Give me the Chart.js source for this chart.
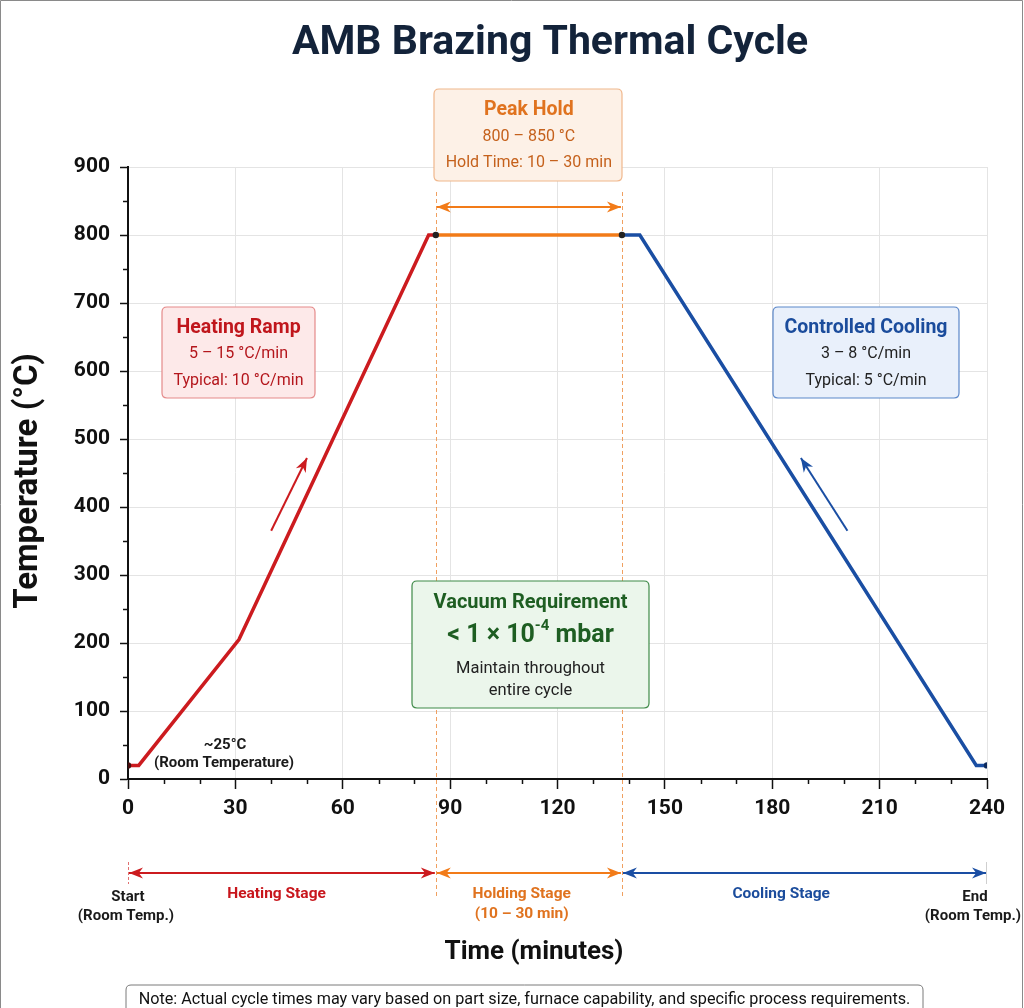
<!DOCTYPE html>
<html><head><meta charset="utf-8">
<script src="https://cdn.jsdelivr.net/npm/chart.js@4/dist/chart.umd.min.js"></script>
<style>html,body{margin:0;padding:0;background:#fff}canvas{display:block}</style>
</head><body>
<canvas id="c" width="1024" height="1008"></canvas>
<script>
// ---- data ----
const xTickValues = [0, 30, 60, 90, 120, 150, 180, 210, 240];
const yTickValues = [0, 100, 200, 300, 400, 500, 600, 700, 800, 900];
const heatingTime = [0, 3, 31, 84, 86];
const heatingTemp = [20, 20, 205, 800, 800];
const holdTime = [86, 138];
const holdTemp = [800, 800];
const coolingTime = [138, 143, 237, 240];
const coolingTemp = [800, 800, 20, 20];
const junctionTime = [0, 86, 138, 240];
const junctionTemp = [20, 800, 800, 20];
const stageBounds = [0, 86, 138, 240];
const stageNames = ['Heating Stage', 'Holding Stage', 'Cooling Stage'];

const FONT = 'Roboto, "Open Sans", sans-serif';
const RED = '#cc1b1f', ORANGE = '#f27b18', BLUE = '#1a4ea3';

function pts(t, v) { return t.map((x, i) => ({ x: x, y: v[i] })); }

function rrect(ctx, x, y, w, h, r) {
  ctx.beginPath();
  ctx.moveTo(x + r, y);
  ctx.lineTo(x + w - r, y); ctx.quadraticCurveTo(x + w, y, x + w, y + r);
  ctx.lineTo(x + w, y + h - r); ctx.quadraticCurveTo(x + w, y + h, x + w - r, y + h);
  ctx.lineTo(x + r, y + h); ctx.quadraticCurveTo(x, y + h, x, y + h - r);
  ctx.lineTo(x, y + r); ctx.quadraticCurveTo(x, y, x + r, y);
  ctx.closePath();
}
function text(ctx, s, x, y, font, color, align) {
  ctx.font = font; ctx.fillStyle = color; ctx.textAlign = align || 'center'; ctx.textBaseline = 'middle';
  ctx.fillText(s, x, y);
}
function arrowHead(ctx, x1, y1, x2, y2, len, wid, color) {
  const a = Math.atan2(y2 - y1, x2 - x1);
  ctx.save(); ctx.translate(x2, y2); ctx.rotate(a);
  ctx.beginPath(); ctx.moveTo(0, 0); ctx.lineTo(-len, -wid / 2); ctx.lineTo(-len * 0.7, 0); ctx.lineTo(-len, wid / 2); ctx.closePath();
  ctx.fillStyle = color; ctx.fill(); ctx.restore();
}
function arrow(ctx, x1, y1, x2, y2, color, lw, both, hl, hw) {
  ctx.save(); ctx.strokeStyle = color; ctx.lineWidth = lw; ctx.setLineDash([]);
  ctx.beginPath(); ctx.moveTo(x1, y1); ctx.lineTo(x2, y2); ctx.stroke();
  arrowHead(ctx, x1, y1, x2, y2, hl, hw, color);
  if (both) arrowHead(ctx, x2, y2, x1, y1, hl, hw, color);
  ctx.restore();
}
function box(ctx, x0, y0, x1, y1, fill, stroke) {
  ctx.save(); rrect(ctx, x0, y0, x1 - x0, y1 - y0, 5);
  ctx.fillStyle = fill; ctx.fill(); ctx.lineWidth = 1.2; ctx.strokeStyle = stroke; ctx.stroke(); ctx.restore();
}

const decor = {
  id: 'decor',
  beforeDatasetsDraw(chart) {
    const ctx = chart.ctx, xs = chart.scales.x;
    ctx.save();
    ctx.strokeStyle = '#f0a060'; ctx.lineWidth = 1; ctx.setLineDash([4, 3]);
    [stageBounds[1], stageBounds[2]].forEach(v => {
      const px = Math.round(xs.getPixelForValue(v)) + 0.5;
      ctx.beginPath(); ctx.moveTo(px, 192); ctx.lineTo(px, 897); ctx.stroke();
    });
    ctx.restore();
  },
  afterDatasetsDraw(chart) {
    const ctx = chart.ctx, xs = chart.scales.x, ys = chart.scales.y, ca = chart.chartArea;
    const X = v => xs.getPixelForValue(v), Y = v => ys.getPixelForValue(v);
    ctx.save();
    // frame
    ctx.strokeStyle = '#8a8a8a'; ctx.lineWidth = 1;
    ctx.beginPath(); ctx.moveTo(0.5, 1008); ctx.lineTo(0.5, 0.5); ctx.lineTo(1022.5, 0.5); ctx.lineTo(1022.5, 1008); ctx.stroke();

    // title
    text(ctx, 'AMB Brazing Thermal Cycle', 550, 44, 'bold 41px ' + FONT, '#13233a');
    // axis titles
    text(ctx, 'Time (minutes)', 534, 952, 'bold 26px ' + FONT, '#111');
    ctx.save(); ctx.translate(29, 481); ctx.rotate(-Math.PI / 2);
    text(ctx, 'Temperature (°C)', 0, 0, 'bold 33px ' + FONT, '#111');
    ctx.restore();

    // minor ticks
    ctx.strokeStyle = '#111'; ctx.lineWidth = 1.5;
    for (let v = 10; v < 240; v += 10) {
      if (v % 30 === 0) continue;
      const px = Math.round(X(v)) + 0.5;
      ctx.beginPath(); ctx.moveTo(px, ca.bottom); ctx.lineTo(px, ca.bottom + 5); ctx.stroke();
    }
    for (let v = 50; v < 900; v += 100) {
      const py = Math.round(Y(v)) + 0.5;
      ctx.beginPath(); ctx.moveTo(ca.left - 5, py); ctx.lineTo(ca.left, py); ctx.stroke();
    }

    // Peak hold box
    box(ctx, 434, 89, 622, 181, '#fdf1e7', '#f0b78c');
    const pc = (X(holdTime[0]) + X(holdTime[1])) / 2;
    text(ctx, 'Peak Hold', pc, 110, 'bold 19.5px ' + FONT, '#e0731f');
    text(ctx, '800 – 850 °C', pc, 137, '16px ' + FONT, '#c5611c');
    text(ctx, 'Hold Time: 10 – 30 min', pc, 163, '16px ' + FONT, '#c5611c');
    arrow(ctx, X(holdTime[0]) + 1, 207, X(holdTime[1]) - 1, 207, ORANGE, 2, true, 14, 11);

    // Heating ramp box
    box(ctx, 162, 307, 315, 398, '#fde9e9', '#e58a8a');
    text(ctx, 'Heating Ramp', 238.5, 328, 'bold 19.5px ' + FONT, '#c0161c');
    text(ctx, '5 – 15 °C/min', 238.5, 354, '16px ' + FONT, '#b4161c');
    text(ctx, 'Typical: 10 °C/min', 238.5, 381, '16px ' + FONT, '#b4161c');
    arrow(ctx, X(40), Y(365), X(50), Y(472), RED, 2, false, 14, 11);

    // Controlled cooling box
    box(ctx, 773, 307, 959, 398, '#e9f0fb', '#5b87c9');
    text(ctx, 'Controlled Cooling', 866, 328, 'bold 19.5px ' + FONT, '#1b4c9c');
    text(ctx, '3 – 8 °C/min', 866, 354, '16px ' + FONT, '#222');
    text(ctx, 'Typical: 5 °C/min', 866, 381, '16px ' + FONT, '#222');
    arrow(ctx, X(201), Y(365), X(188), Y(472), BLUE, 2, false, 14, 11);

    // Vacuum box
    box(ctx, 412, 581, 649, 708, '#ebf6eb', '#3f8a48');
    const vc = 530.5;
    text(ctx, 'Vacuum Requirement', vc, 603, 'bold 20px ' + FONT, '#1e5e22');
    ctx.font = 'bold 25px ' + FONT; const w1 = ctx.measureText('< 1 × 10').width;
    ctx.font = 'bold 15px ' + FONT; const w2 = ctx.measureText('-4').width;
    ctx.font = 'bold 25px ' + FONT; const w3 = ctx.measureText(' mbar').width;
    let sx = vc - (w1 + w2 + w3) / 2;
    text(ctx, '< 1 × 10', sx, 636, 'bold 25px ' + FONT, '#1e5e22', 'left');
    text(ctx, '-4', sx + w1, 626, 'bold 15px ' + FONT, '#1e5e22', 'left');
    text(ctx, ' mbar', sx + w1 + w2, 636, 'bold 25px ' + FONT, '#1e5e22', 'left');
    text(ctx, 'Maintain throughout', vc, 669, '16.5px ' + FONT, '#222');
    text(ctx, 'entire cycle', vc, 691, '16.5px ' + FONT, '#222');

    // room temperature label
    text(ctx, '~25°C', 225, 745, 'bold 15px ' + FONT, '#1a1a1a');
    text(ctx, '(Room Temperature)', 224, 763, 'bold 15px ' + FONT, '#1a1a1a');

    // stage arrows
    const stageColors = [RED, ORANGE, BLUE];
    ctx.save(); ctx.setLineDash([3, 2]); ctx.lineWidth = 1;
    ctx.strokeStyle = '#e07070';
    ctx.beginPath(); ctx.moveTo(Math.round(X(0)) + 0.5, 862); ctx.lineTo(Math.round(X(0)) + 0.5, 884); ctx.stroke();
    ctx.setLineDash([]); ctx.strokeStyle = '#cfcfcf';
    ctx.beginPath(); ctx.moveTo(Math.round(X(240)) - 0.5, 862); ctx.lineTo(Math.round(X(240)) - 0.5, 884); ctx.stroke();
    ctx.restore();
    for (let i = 0; i < 3; i++) {
      arrow(ctx, X(stageBounds[i]) + 1, 873, X(stageBounds[i + 1]) - 1, 873, stageColors[i], 2, true, 14, 11);
    }
    text(ctx, stageNames[0], X(41.5), 894, 'bold 15.5px ' + FONT, '#c8161c');
    text(ctx, stageNames[1], X(110), 894, 'bold 15.5px ' + FONT, '#e0731f');
    text(ctx, '(10 – 30 min)', X(110), 914, 'bold 15.5px ' + FONT, '#e0731f');
    text(ctx, stageNames[2], X(182.5), 894, 'bold 15.5px ' + FONT, '#1b4c9c');
    text(ctx, 'Start', X(0), 897, 'bold 15px ' + FONT, '#1a1a1a');
    text(ctx, '(Room Temp.)', X(0) - 2, 916, 'bold 15px ' + FONT, '#1a1a1a');
    text(ctx, 'End', 975, 897, 'bold 15px ' + FONT, '#1a1a1a');
    text(ctx, '(Room Temp.)', 973, 916, 'bold 15px ' + FONT, '#1a1a1a');

    // note
    ctx.save(); rrect(ctx, 126, 985, 797, 40, 5); ctx.fillStyle = '#fff'; ctx.fill();
    ctx.strokeStyle = '#7a7a7a'; ctx.lineWidth = 1; ctx.stroke(); ctx.restore();
    text(ctx, 'Note: Actual cycle times may vary based on part size, furnace capability, and specific process requirements.', 524.5, 1000, '16.2px ' + FONT, '#111');
    ctx.restore();
  }
};

new Chart(document.getElementById('c'), {
  type: 'line',
  data: {
    datasets: [
      { label: 'Junctions', data: pts(junctionTime, junctionTemp), showLine: false,
        pointRadius: 3.2, pointBackgroundColor: ['#4a0d0d', '#222', '#222', '#0d2a5c'], pointBorderWidth: 0 },
      { label: 'Heating', data: pts(heatingTime, heatingTemp), borderColor: RED, borderWidth: 3.5, pointRadius: 0, borderJoinStyle: 'miter' },
      { label: 'Hold', data: pts(holdTime, holdTemp), borderColor: ORANGE, borderWidth: 3.5, pointRadius: 0 },
      { label: 'Cooling', data: pts(coolingTime, coolingTemp), borderColor: BLUE, borderWidth: 3.5, pointRadius: 0, borderJoinStyle: 'miter' }
    ]
  },
  options: {
    responsive: false, animation: false, devicePixelRatio: 1,
    layout: { padding: { left: 0, right: 37, top: 167, bottom: 179 } },
    plugins: { legend: { display: false }, tooltip: { enabled: false } },
    scales: {
      x: {
        type: 'linear', min: 0, max: 240,
        afterFit: s => { s.height = 50; },
        afterBuildTicks: s => { s.ticks = xTickValues.map(v => ({ value: v })); },
        ticks: { font: { family: FONT, size: 21, weight: 'bold' }, color: '#111', padding: 7, maxRotation: 0 },
        grid: { color: '#e4e4e4', lineWidth: 1, tickColor: '#111', tickLength: 10, tickWidth: 1.5 },
        border: { color: '#111', width: 2 }
      },
      y: {
        type: 'linear', min: 0, max: 900,
        afterFit: s => { s.width = 128; },
        afterBuildTicks: s => { s.ticks = yTickValues.map(v => ({ value: v })); },
        ticks: { font: { family: FONT, size: 21, weight: 'bold' }, color: '#111', padding: 10 },
        grid: { color: '#e4e4e4', lineWidth: 1, tickColor: '#111', tickLength: 8, tickWidth: 1.5 },
        border: { color: '#111', width: 2 }
      }
    }
  },
  plugins: [decor]
});
</script>
</body></html>
